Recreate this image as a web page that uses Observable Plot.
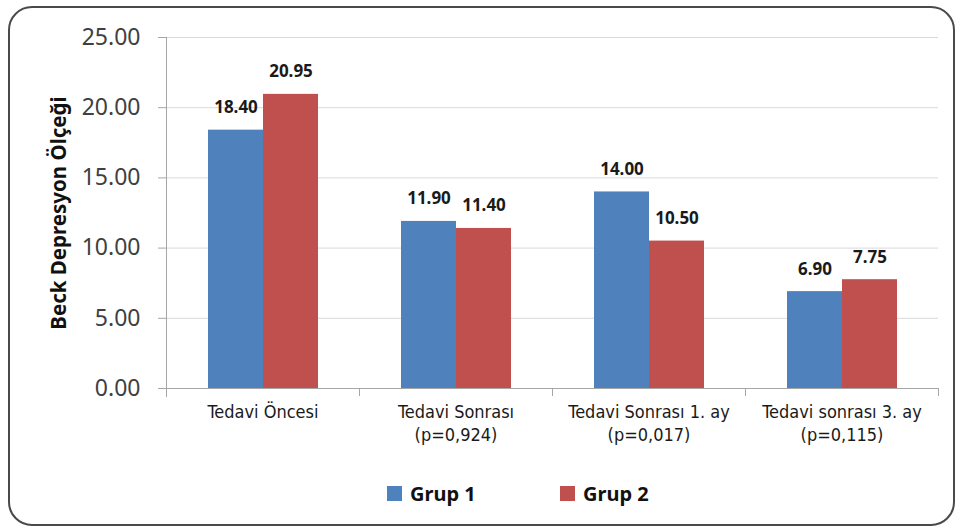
<!DOCTYPE html>
<html>
<head>
<meta charset="utf-8">
<script src="https://cdn.jsdelivr.net/npm/d3@7"></script>
<script src="https://cdn.jsdelivr.net/npm/@observablehq/plot@0.6"></script>
<style>
  html, body { margin: 0; padding: 0; background: #fff; }
  #wrap { position: relative; width: 961px; height: 529px; overflow: hidden; }
  #border { position: absolute; left: 8px; top: 6px; width: 947px; height: 520px; box-sizing: border-box;
            border: 2px solid #4a4a4a; border-radius: 24px; pointer-events: none; }
  #chart { position: absolute; left: 0; top: 0; }
  #legend { position: absolute; left: 0; top: 460px; width: 961px; height: 66px;
            font-family: "Noto Sans", sans-serif; font-weight: bold; font-size: 20px; color: #111; }
  .item { position: absolute; top: 20px; display: flex; align-items: center; }
  .sw { width: 15px; height: 15px; margin-right: 8px; }
</style>
</head>
<body>
<div id="wrap">
  <div id="chart"></div>
  <div id="legend"></div>
  <div id="border"></div>
</div>
<script>
const categories = ["Tedavi Öncesi", "Tedavi Sonrası\n(p=0,924)", "Tedavi Sonrası 1. ay\n(p=0,017)", "Tedavi sonrası 3. ay\n(p=0,115)"];
const groups = ["Grup 1", "Grup 2"];
const grup1 = [18.40, 11.90, 14.00, 6.90];
const grup2 = [20.95, 11.40, 10.50, 7.75];
const yTicks = [0, 5, 10, 15, 20, 25];
const colors = ["#4f81bd", "#c0504d"];
const yLabel = "Beck Depresyon Ölçeği";

const data = categories.flatMap((c, i) => [
  {cat: c, group: groups[0], value: grup1[i]},
  {cat: c, group: groups[1], value: grup2[i]}
]);

const W = 961, H = 460, ML = 166, MR = 23, MT = 37, MB = 72;
const band = (W - ML - MR) / categories.length;

const chart = Plot.plot({
  width: W, height: H,
  marginLeft: ML, marginRight: MR, marginTop: MT, marginBottom: MB,
  style: {background: "transparent", overflow: "visible"},
  fx: {domain: categories, padding: 0, axis: null},
  x: {domain: groups, paddingInner: 0, paddingOuter: 0.7545, axis: null},
  y: {domain: [0, 25], axis: null},
  color: {domain: groups, range: colors},
  marks: [
    Plot.gridY(yTicks, {stroke: "#d9d9d9", strokeOpacity: 1}),
    Plot.barY(data, {fx: "cat", x: "group", y: "value", fill: "group"}),
    Plot.ruleY([0], {stroke: "#a6a6a6"}),
    Plot.frame({anchor: "left", facetAnchor: "left", stroke: "#a6a6a6", insetBottom: -8}),
    Plot.text(data, {fx: "cat", x: "group", y: "value", text: d => d.value.toFixed(2),
      lineAnchor: "bottom", dy: -17, fontWeight: "bold", fontSize: 17, fill: "#1a1a1a",
      fontFamily: "Noto Sans"}),
    Plot.axisY(yTicks, {anchor: "left", tickSize: 8, tickPadding: 18, tickFormat: d => d.toFixed(2),
      fontSize: 23, fill: "#404040", stroke: "#a6a6a6", fontFamily: "Noto Sans", label: null}),
    Plot.text([yLabel], {frameAnchor: "left", facetAnchor: "left", dx: -107, rotate: -90, textAnchor: "middle",
      fontWeight: "bold", fontSize: 20.5, fill: "#111", fontFamily: "Noto Sans"}),
    Plot.axisFx({anchor: "bottom", tickSize: 0, tickPadding: 12, lineHeight: 1.33, fontSize: 18,
      fill: "#1a1a1a", fontFamily: "Liberation Sans Narrow, DejaVu Sans Condensed, sans-serif", label: null}),
    Plot.axisFx({anchor: "bottom", tickSize: 8, fill: "none", stroke: "#a6a6a6", dx: band / 2, label: null}),
    Plot.axisFx([categories[0]], {anchor: "bottom", tickSize: 8, fill: "none", stroke: "#a6a6a6", dx: -band / 2, label: null})
  ]
});
document.getElementById("chart").appendChild(chart);

const legend = document.getElementById("legend");
const legendX = [387, 560];
groups.forEach((g, i) => {
  const it = document.createElement("div");
  it.className = "item";
  it.style.left = legendX[i] + "px";
  const sw = document.createElement("div");
  sw.className = "sw";
  sw.style.background = colors[i];
  const t = document.createElement("span");
  t.textContent = g;
  it.appendChild(sw); it.appendChild(t);
  legend.appendChild(it);
});
</script>
</body>
</html>
